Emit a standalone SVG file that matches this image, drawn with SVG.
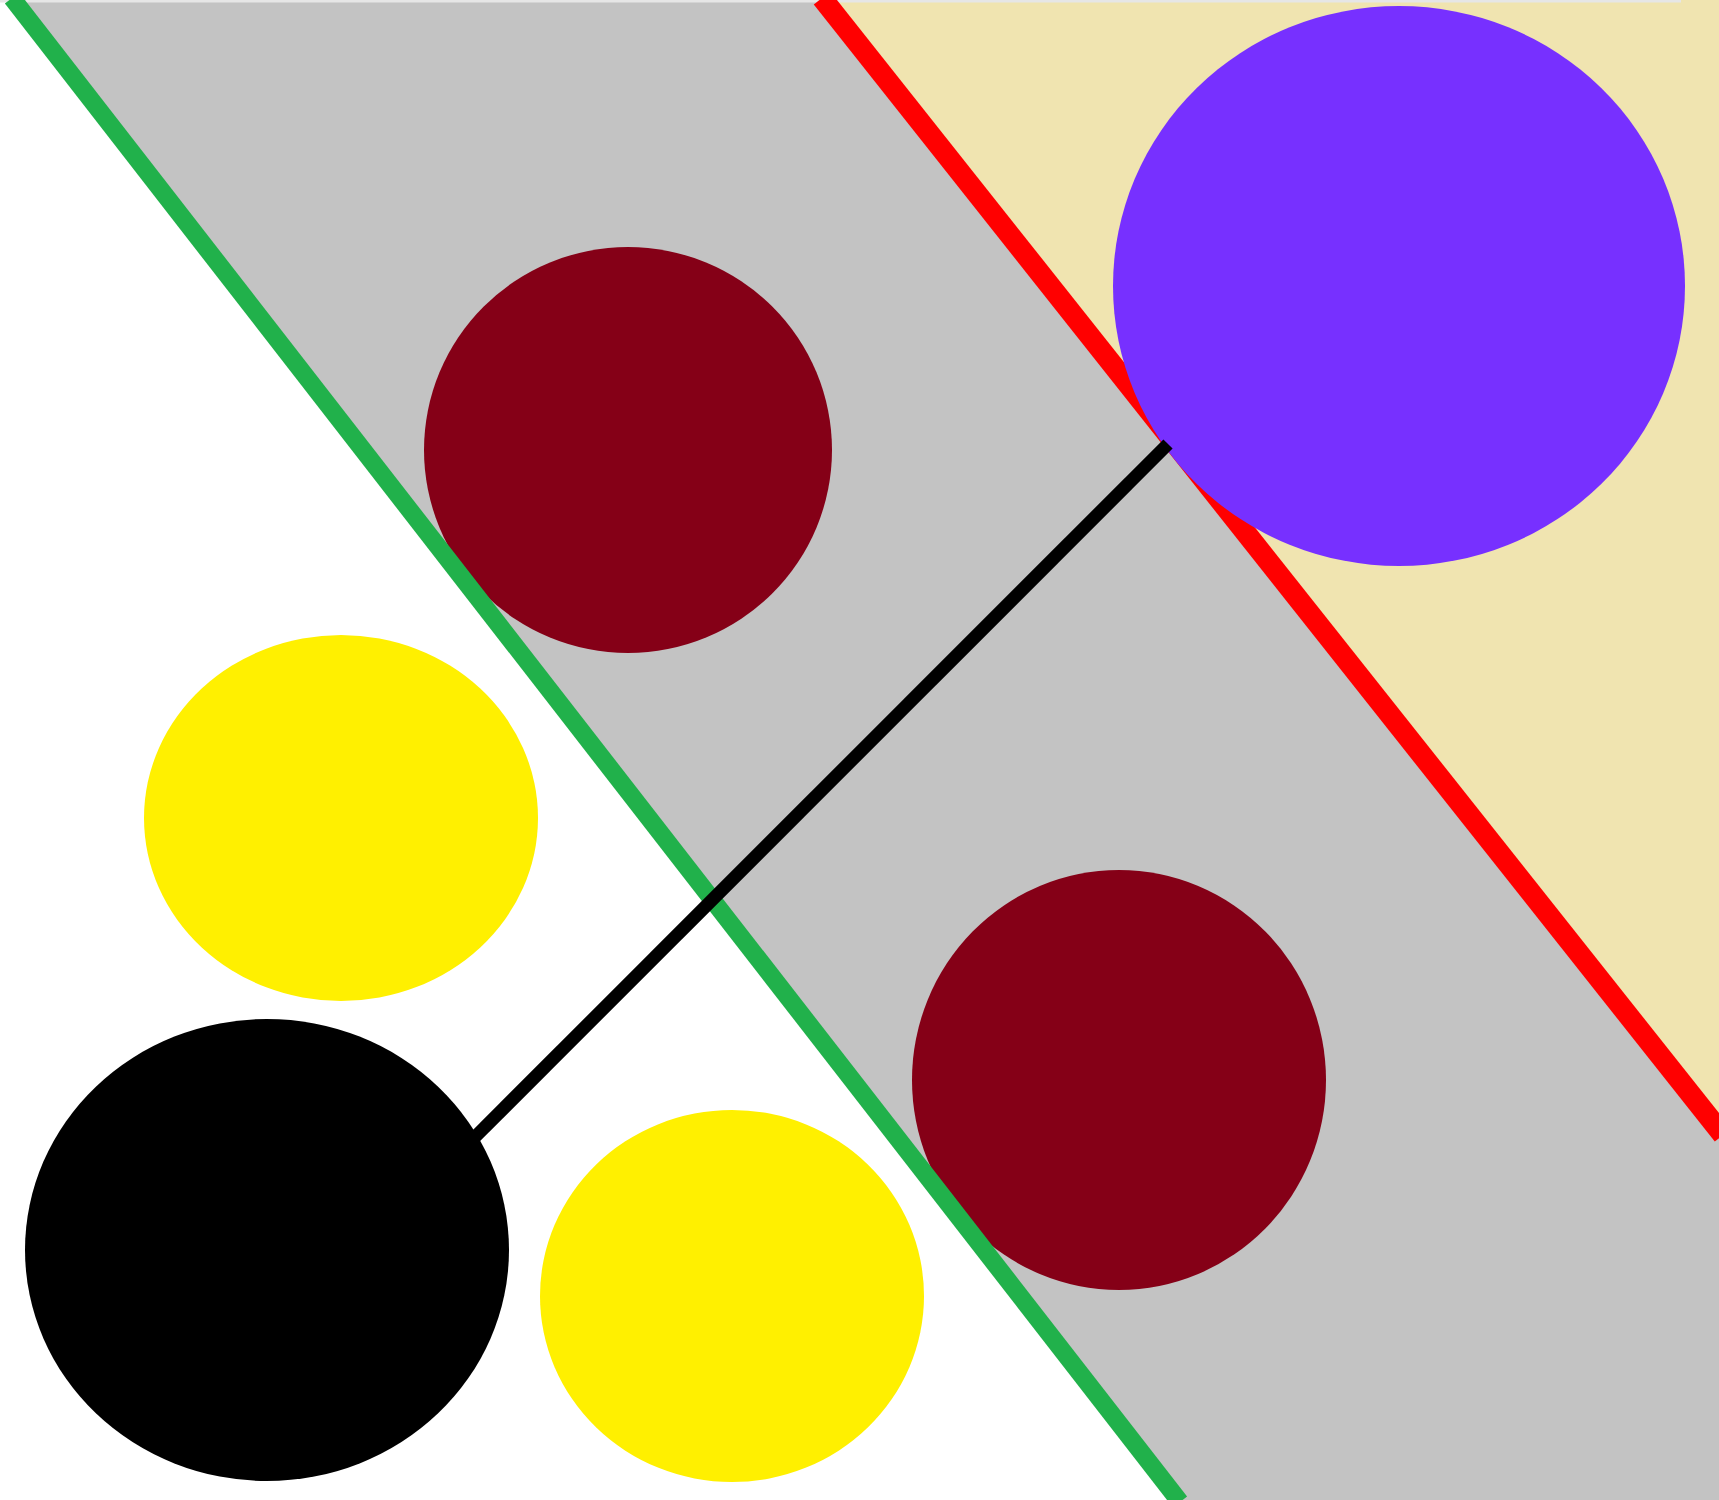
<svg xmlns="http://www.w3.org/2000/svg" width="1719" height="1500" viewBox="0 0 1719 1500">
  <style>
    .band { fill: #C3C3C3; }
    .sand { fill: #F0E4B0; }
    .wine { fill: #850017; }
    .sun { fill: #FFF000; }
    .ink { fill: #000000; }
    .violet { fill: #7730FF; }
  </style>
  <rect width="1719" height="1500" fill="#FFFFFF"/>
  <g id="regions">
    <polygon class="band" points="12,0 822,0 1719,1132 1719,1500 1178,1500"/>
    <polygon class="sand" points="822,0 1719,0 1719,1132"/>
    <line x1="0" y1="1" x2="1681" y2="1" stroke="#E6E6E6" stroke-width="3"/>
  </g>
  <g id="node-wine-1"><ellipse class="wine" cx="628" cy="450" rx="204" ry="203"/></g>
  <g id="node-wine-2"><ellipse class="wine" cx="1119" cy="1080" rx="207" ry="210"/></g>
  <g id="boundaries">
    <line x1="12" y1="-2" x2="1180" y2="1502" stroke="#21B14B" stroke-width="18"/>
    <line x1="822" y1="-2" x2="1723" y2="1135" stroke="#FF0000" stroke-width="21"/>
  </g>
  <g id="node-sun-1"><ellipse class="sun" cx="341" cy="818" rx="197" ry="183"/></g>
  <g id="node-sun-2"><ellipse class="sun" cx="732" cy="1296" rx="192" ry="186"/></g>
  <g id="node-violet"><ellipse class="violet" cx="1399" cy="286" rx="286" ry="280"/></g>
  <g id="connectors">
    <line x1="470" y1="1142" x2="1168" y2="444" stroke="#000000" stroke-width="13"/>
  </g>
  <g id="node-ink"><ellipse class="ink" cx="267" cy="1250" rx="242" ry="231"/></g>
</svg>
